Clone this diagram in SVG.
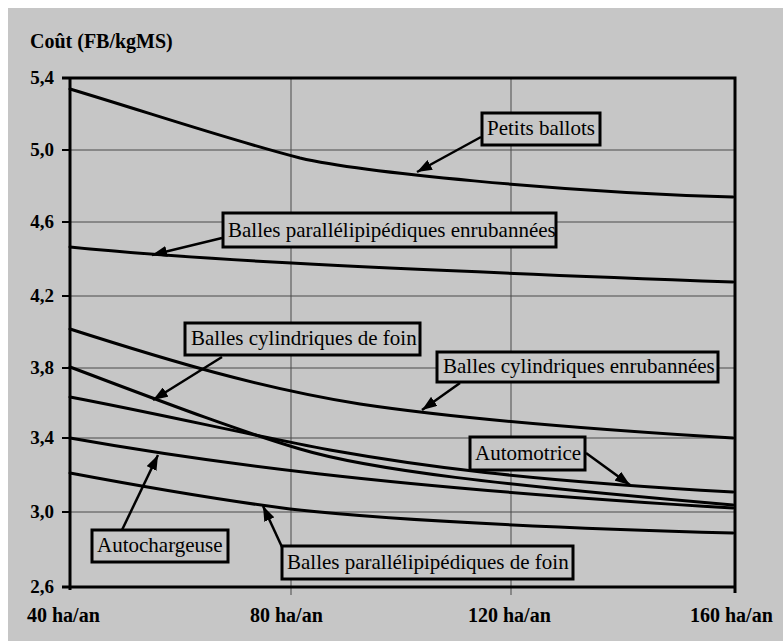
<svg xmlns="http://www.w3.org/2000/svg" width="783" height="641" viewBox="0 0 783 641">
<defs>
<marker id="ah" markerUnits="userSpaceOnUse" viewBox="0 0 15 11" refX="15" refY="5.5" markerWidth="15" markerHeight="11" orient="auto">
<path d="M0,0 L15,5.5 L0,11 z" fill="#000"/>
</marker>
<style>
.ax{font-family:'Liberation Serif','DejaVu Serif','Times New Roman',serif;font-weight:bold;font-size:19px;fill:#000}
.xl{font-family:'Liberation Serif','DejaVu Serif','Times New Roman',serif;font-weight:bold;font-size:20px;fill:#000}
.lb{font-family:'Liberation Serif','DejaVu Serif','Times New Roman',serif;font-size:21px;fill:#000}
.box{fill:#c6c6c6;stroke:#000;stroke-width:3}
.frame{stroke:#000;stroke-width:3;fill:none}
.grid{stroke:#222;stroke-width:1;fill:none;opacity:0.75}
.curve{stroke:#000;stroke-width:3;fill:none;stroke-linecap:round;stroke-linejoin:round}
.conn{stroke:#000;stroke-width:2.5;fill:none;marker-end:url(#ah)}
</style>
</defs>
<rect x="0" y="0" width="783" height="641" fill="#fff"/>
<rect x="8" y="8" width="775" height="633" fill="#c6c6c6"/>

<g id="axes">
<text class="xl" x="30" y="48">Coût (FB/kgMS)</text>
<g class="grid">
<path d="M70,150 H735 M70,222 H735 M70,296 H735 M70,368 H735 M70,438 H735 M70,512 H735"/>
<path d="M291,78 V595 M511,78 V595"/>
</g>
<g class="frame">
<path d="M62,78 H735 V593 M70,78 V590 M62,587 H735"/>
<path d="M62,150 H70 M62,222 H70 M62,296 H70 M62,368 H70 M62,438 H70 M62,512 H70" stroke-width="2"/>
</g>
<g class="ax" text-anchor="end">
<text x="54" y="84">5,4</text>
<text x="54" y="156">5,0</text>
<text x="54" y="228">4,6</text>
<text x="54" y="302">4,2</text>
<text x="54" y="374">3,8</text>
<text x="54" y="444">3,4</text>
<text x="54" y="518">3,0</text>
<text x="54" y="593">2,6</text>
</g>
<g class="xl">
<text x="27" y="622">40 ha/an</text>
<text x="250" y="622">80 ha/an</text>
<text x="468" y="622">120 ha/an</text>
<text x="690" y="622">160 ha/an</text>
</g>
</g>

<g id="curves">
<path id="c-petits" class="curve" d="M70,89 C150,113 230,140 300,158 C360,172 560,192 733,197"/>
<path id="c-para-enrub" class="curve" d="M70,247 C180,258 330,267 733,282"/>
<path id="c-cyl-enrub" class="curve" d="M70,329 C170,361 260,388 360,404 C460,419 600,430 733,438"/>
<path id="c-cyl-foin" class="curve" d="M70,367 C150,397 230,428 300,449 C370,470 500,485 733,505"/>
<path id="c-automotrice" class="curve" d="M70,397 C160,414 250,435 330,450 C420,466 520,480 733,492"/>
<path id="c-autochargeuse" class="curve" d="M70,438 C200,461 380,487 733,508"/>
<path id="c-para-foin" class="curve" d="M70,473 C150,488 220,500 290,509 C380,519 520,527 733,533"/>
</g>

<g id="connectors">
<path class="conn" d="M481,137 L417,172"/>
<path class="conn" d="M222,238 L152,255"/>
<path class="conn" d="M222,357 L153,400"/>
<path class="conn" d="M460,383 L422,410"/>
<path class="conn" d="M586,453 L630,485"/>
<path class="conn" d="M122,530 L158,455"/>
<path class="conn" d="M282,547 L263,506"/>
</g>

<g id="n-petits">
<rect class="box" x="482" y="113" width="118" height="32"/>
<text class="lb" x="487" y="135">Petits ballots</text>
</g>
<g id="n-para-enrub">
<rect class="box" x="223" y="213" width="333" height="34"/>
<text class="lb" x="228" y="237">Balles parallélipipédiques enrubannées</text>
</g>
<g id="n-cyl-foin">
<rect class="box" x="185" y="323" width="235" height="32"/>
<text class="lb" x="191" y="345">Balles cylindriques de foin</text>
</g>
<g id="n-cyl-enrub">
<rect class="box" x="437" y="352" width="281" height="30"/>
<text class="lb" x="443" y="373">Balles cylindriques enrubannées</text>
</g>
<g id="n-automotrice">
<rect class="box" x="470" y="437" width="115" height="33"/>
<text class="lb" x="475" y="460">Automotrice</text>
</g>
<g id="n-autochargeuse">
<rect class="box" x="92" y="530" width="136" height="32"/>
<text class="lb" x="97" y="552">Autochargeuse</text>
</g>
<g id="n-para-foin">
<rect class="box" x="282" y="546" width="291" height="33"/>
<text class="lb" x="287" y="569">Balles parallélipipédiques de foin</text>
</g>
</svg>
